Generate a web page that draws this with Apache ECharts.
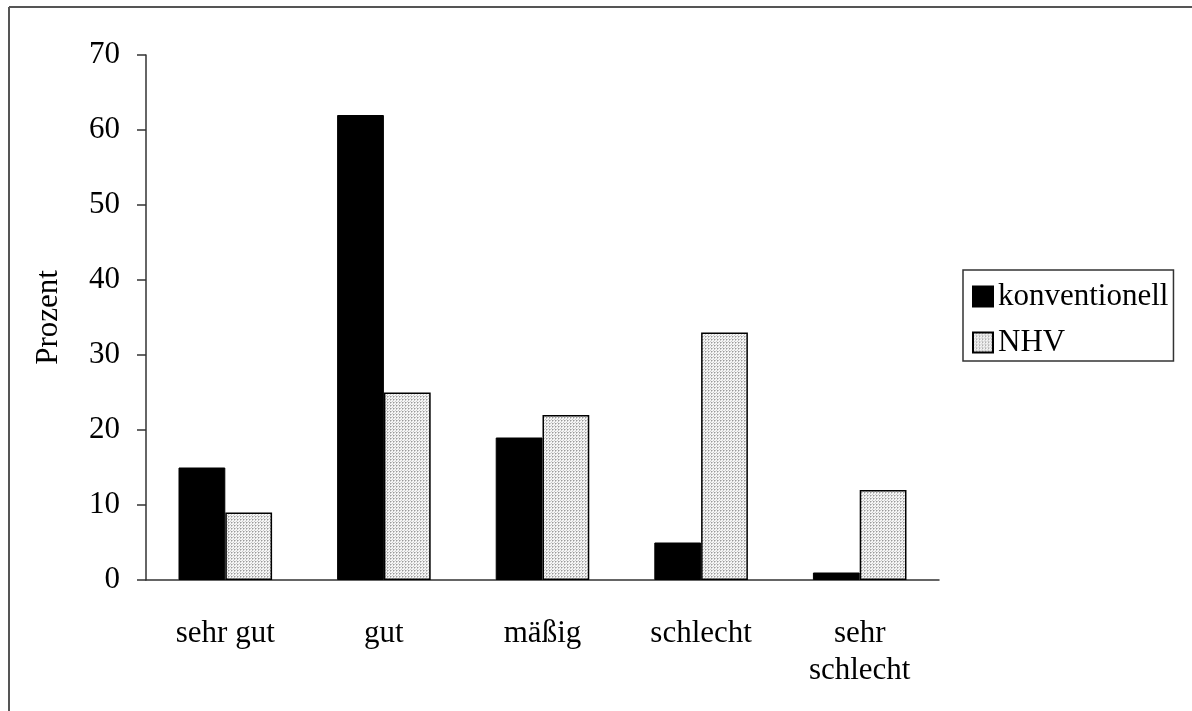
<!DOCTYPE html>
<html>
<head>
<meta charset="utf-8">
<script src="https://cdn.jsdelivr.net/npm/echarts@6/dist/echarts.min.js"></script>
<style>
html,body{margin:0;padding:0;background:#fff;}
#chart{width:1192px;height:711px;}
</style>
</head>
<body>
<div id="chart"></div>
<script>
const categories = ['sehr gut', 'gut', 'mäßig', 'schlecht', 'sehr\nschlecht'];
const konventionell = [15, 62, 19, 5, 1];
const nhv = [9, 25, 22, 33, 12];
const yTicks = { min: 0, max: 70, interval: 10 };

const FONT = '"Liberation Serif", "Times New Roman", serif';

// dotted fill pattern for NHV
const pc = document.createElement('canvas');
pc.width = 3; pc.height = 3;
const pctx = pc.getContext('2d');
pctx.fillStyle = '#f6f6f6'; pctx.fillRect(0, 0, 3, 3);
pctx.fillStyle = '#9a9a9a';
pctx.fillRect(0, 0, 1, 1);
pctx.fillStyle = '#c8c8c8';
pctx.fillRect(1, 0, 1, 1);
pctx.fillRect(0, 1, 1, 1);
pctx.fillRect(2, 2, 1, 1);

const chart = echarts.init(document.getElementById('chart'), null, { renderer: 'canvas' });
chart.setOption({
  backgroundColor: '#fff',
  animation: false,
  graphic: [
    { type: 'line', shape: { x1: 9, y1: 7, x2: 1192, y2: 7 }, style: { stroke: '#555', lineWidth: 2 } },
    { type: 'line', shape: { x1: 9, y1: 7, x2: 9, y2: 711 }, style: { stroke: '#555', lineWidth: 2 } }
  ],
  grid: { left: 146, right: 253, top: 55, bottom: 131 },
  legend: {
    orient: 'vertical',
    left: 963,
    top: 270,
    padding: [11, 5, 3, 9],
    itemWidth: 20,
    itemHeight: 20,
    itemGap: 15,
    borderColor: '#333',
    borderWidth: 1.5,
    icon: 'rect',
    textStyle: { fontFamily: FONT, fontSize: 31, color: '#000' },
    data: ['konventionell', 'NHV']
  },
  xAxis: {
    type: 'category',
    data: categories,
    axisLine: { lineStyle: { color: '#333', width: 1.5 } },
    axisTick: { show: false },
    axisLabel: { fontFamily: FONT, fontSize: 31, color: '#000', margin: 35, lineHeight: 37, interval: 0 }
  },
  yAxis: {
    type: 'value',
    min: yTicks.min, max: yTicks.max, interval: yTicks.interval,
    name: 'Prozent',
    nameLocation: 'middle',
    nameGap: 82,
    nameTextStyle: { fontFamily: FONT, fontSize: 31, color: '#000' },
    axisLine: { show: true, lineStyle: { color: '#333', width: 1.5 } },
    axisTick: { show: true, length: 9, lineStyle: { color: '#333', width: 1.5 } },
    splitLine: { show: false },
    axisLabel: { fontFamily: FONT, fontSize: 31, color: '#000', margin: 26 }
  },
  series: [
    {
      name: 'konventionell', type: 'bar', data: konventionell,
      barGap: '0%', barCategoryGap: '41%',
      itemStyle: { color: '#000', borderColor: '#000', borderWidth: 1 }
    },
    {
      name: 'NHV', type: 'bar', data: nhv,
      itemStyle: { color: { image: pc, repeat: 'repeat' }, borderColor: '#000', borderWidth: 1.5 }
    }
  ]
});
</script>
</body>
</html>
